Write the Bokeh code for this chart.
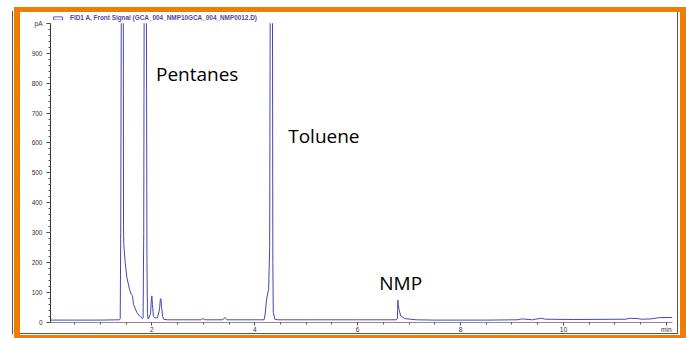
from bokeh.plotting import figure
from bokeh.models import Label, SingleIntervalTicker, Range1d, Legend, LegendItem
from bokeh.embed import file_html
from bokeh.resources import INLINE

NAN = float("nan")

# Chromatogram trace (retention time in min, signal in pA);
# NaN marks where the signal runs off the top of the scale
time_min = [0.03, 0.5, 1.0, 1.37, 1.385, 1.395, 1.405, 1.425, 1.445, 1.449,
            1.455, 1.482, 1.515, 1.566, 1.599, 1.624, 1.643, 1.709, 1.773, 1.818,
            1.83, 1.842, 1.85, 1.87, 1.895, 1.905, 1.915, 1.925,
            1.94, 1.975, 1.99, 2.0, 2.012, 2.03, 2.06, 2.11, 2.15, 2.165, 2.175,
            2.19, 2.21, 2.23, 2.3,
            2.5, 2.95, 2.99, 3.03, 3.38, 3.42, 3.46, 4.0,
            4.18, 4.2, 4.23, 4.27, 4.29, 4.3, 4.325, 4.345, 4.352, 4.36, 4.39, 4.45,
            5.0, 6.0, 6.75, 6.772, 6.782, 6.79, 6.804, 6.837, 6.915, 7.14, 7.5,
            8.5, 9.1, 9.2, 9.4, 9.45, 9.57, 9.65, 10.2, 11.2, 11.3, 11.45, 11.52,
            11.7, 11.85, 12.12]
signal_pA = [8, 8, 8, 9, 12, 300, 1000, NAN, 1000, 320,
             260, 200, 150, 111, 94, 89, 61, 33, 20, 13,
             15, 300, 1000, NAN, 1000, 200, 30, 12,
             14, 30, 75, 89, 60, 20, 15, 16, 45, 78, 80,
             50, 20, 11, 9,
             9, 9, 13, 9, 9, 17, 9, 9,
             9, 25, 78, 111, 250, 1000, NAN, 1000, 200, 34, 11, 9,
             9, 9, 9, 12, 75, 60, 44, 22, 13, 9, 8,
             8, 9, 12, 9, 11, 14, 11, 10, 11, 14, 13, 11,
             12, 16, 17]

peak_names = ["Pentanes", "Toluene", "NMP"]
peak_label_time = [2.08, 4.65, 6.42]
peak_label_pA = [831, 622, 131]

legend_text = "FID1 A, Front Signal (GCA_004_NMP10GCA_004_NMP0012.D)"
y_label_overrides = {1000: "pA"}
x_label_overrides = {12: "min"}

ORANGE = "#EE7D00"
TRACE = "#4646b4"
FRAME = "#555555"

p = figure(width=660, height=323,
           x_range=Range1d(0.03, 12.12), y_range=Range1d(0, 1036),
           output_backend="svg", toolbar_location=None,
           min_border_left=30, min_border_right=8,
           min_border_top=0, min_border_bottom=12)
p.margin = (12, 0, 0, 20)
# orange slide frame and thin outer frame drawn as CSS shadows around the figure
p.styles = {"box-shadow": ", ".join([
    f"-2px -1px 0 4px {ORANGE}",
    f"2px -1px 0 4px {ORANGE}",
    "-7px -1px 0 0 #ffffff",
    f"-8px -1px 0 0 {FRAME}",
    "inset -2px -1px 0 0 #ffffff",
    f"inset -3px -2px 0 0 {FRAME}",
])}
p.outline_line_color = None
p.grid.visible = False
p.background_fill_color = "white"
p.border_fill_alpha = 0

trace = p.line(time_min, signal_pA, line_color=TRACE, line_width=1)
icon = p.quad(left=[NAN], right=[NAN], top=[NAN], bottom=[NAN],
              fill_color="white", line_color="#5a5ab4", line_width=1)

# axes
p.yaxis.ticker = SingleIntervalTicker(interval=100, num_minor_ticks=5)
p.xaxis.ticker = SingleIntervalTicker(interval=2, num_minor_ticks=4)
p.yaxis.bounds = (0, 1000)
p.yaxis.major_label_overrides = y_label_overrides
p.xaxis.major_label_overrides = x_label_overrides
for ax in (p.xaxis, p.yaxis):
    ax.major_label_text_font = "Liberation Sans"
    ax.major_label_text_font_size = "6.5px"
    ax.major_label_text_color = "#333333"
    ax.major_tick_in = 0
    ax.minor_tick_in = 0
    ax.minor_tick_out = 2
    ax.major_tick_line_color = "#444444"
    ax.minor_tick_line_color = "#555555"
p.yaxis.major_tick_out = 4
p.yaxis.major_label_standoff = 4
p.yaxis.axis_line_color = "#333333"
p.xaxis.major_tick_out = 3
p.xaxis.major_label_standoff = 0
p.xaxis.axis_line_color = "#8a8a9a"

# peak labels
for name, t, s in zip(peak_names, peak_label_time, peak_label_pA):
    p.add_layout(Label(x=t, y=s, text=name, text_font="Open Sans",
                       text_font_size="19px", text_color="black",
                       text_align="left", text_baseline="middle"))

# legend entry at the top of the plot area
legend = Legend(items=[LegendItem(label=legend_text, renderers=[icon])],
                location="top_left", orientation="vertical",
                glyph_width=11, glyph_height=4, label_height=4,
                label_standoff=7, padding=0, margin=2, spacing=0,
                label_text_font="Liberation Sans", label_text_font_size="6.4px",
                label_text_font_style="bold", label_text_color="#4a4aa4",
                border_line_color=None, background_fill_alpha=0,
                inactive_fill_alpha=0)
p.add_layout(legend)

open("out.html", "w").write(file_html(p, INLINE))
